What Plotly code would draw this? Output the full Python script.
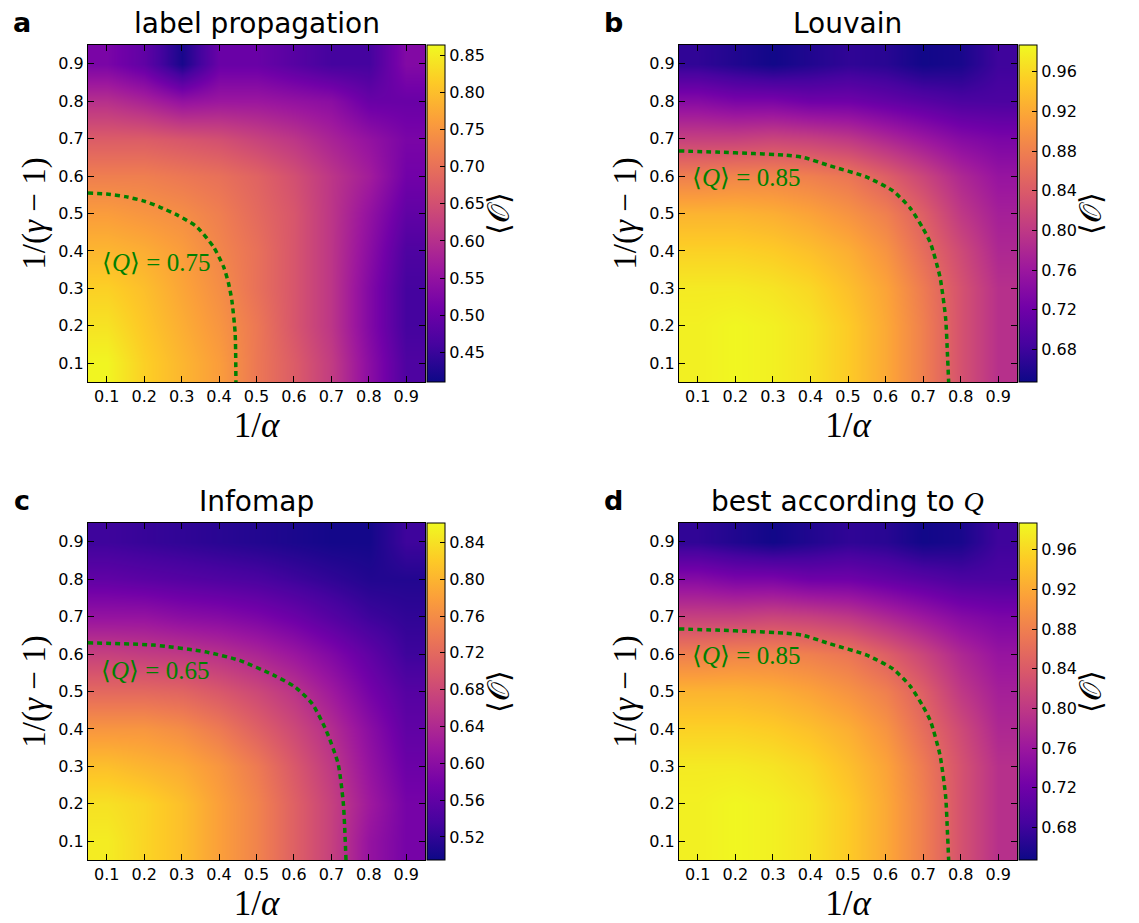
import plotly.graph_objects as go

W, H = 1139, 923

# ---------------- data ----------------
x_vals = [0.1, 0.2, 0.3, 0.4, 0.5, 0.6, 0.7, 0.8, 0.9]   # 1/alpha
y_vals = [0.1, 0.2, 0.3, 0.4, 0.5, 0.6, 0.7, 0.8, 0.9]   # 1/(gamma-1)
tick_vals = [0.1, 0.2, 0.3, 0.4, 0.5, 0.6, 0.7, 0.8, 0.9]
tick_text = ["0.1", "0.2", "0.3", "0.4", "0.5", "0.6", "0.7", "0.8", "0.9"]

# rows: y = 0.1 ... 0.9 ; columns: x = 0.1 ... 0.9
z_label_prop = [
    [0.86, 0.82, 0.79, 0.76, 0.71, 0.67, 0.62, 0.54, 0.47],
    [0.84, 0.81, 0.78, 0.75, 0.71, 0.66, 0.61, 0.53, 0.46],
    [0.82, 0.80, 0.77, 0.74, 0.70, 0.66, 0.61, 0.53, 0.46],
    [0.79, 0.78, 0.76, 0.73, 0.70, 0.66, 0.61, 0.54, 0.47],
    [0.76, 0.75, 0.74, 0.72, 0.69, 0.66, 0.61, 0.55, 0.49],
    [0.72, 0.72, 0.71, 0.70, 0.68, 0.65, 0.61, 0.57, 0.51],
    [0.67, 0.67, 0.66, 0.65, 0.63, 0.61, 0.58, 0.55, 0.52],
    [0.60, 0.58, 0.55, 0.56, 0.56, 0.55, 0.54, 0.50, 0.50],
    [0.52, 0.49, 0.42, 0.50, 0.50, 0.48, 0.46, 0.46, 0.53],
]
z_louvain = [
    [0.980, 0.985, 0.980, 0.970, 0.950, 0.920, 0.880, 0.830, 0.790],
    [0.980, 0.985, 0.980, 0.970, 0.950, 0.920, 0.880, 0.830, 0.790],
    [0.975, 0.975, 0.970, 0.960, 0.940, 0.915, 0.875, 0.830, 0.790],
    [0.955, 0.955, 0.950, 0.940, 0.925, 0.900, 0.860, 0.820, 0.780],
    [0.930, 0.930, 0.925, 0.915, 0.900, 0.880, 0.845, 0.800, 0.770],
    [0.880, 0.885, 0.885, 0.880, 0.870, 0.845, 0.815, 0.780, 0.755],
    [0.810, 0.810, 0.815, 0.810, 0.800, 0.780, 0.760, 0.740, 0.730],
    [0.740, 0.730, 0.730, 0.720, 0.720, 0.710, 0.700, 0.690, 0.690],
    [0.670, 0.660, 0.650, 0.660, 0.670, 0.665, 0.650, 0.655, 0.680],
]
z_infomap = [
    [0.850, 0.830, 0.810, 0.780, 0.750, 0.710, 0.670, 0.610, 0.580],
    [0.840, 0.830, 0.810, 0.780, 0.750, 0.710, 0.670, 0.620, 0.580],
    [0.810, 0.800, 0.790, 0.770, 0.740, 0.700, 0.660, 0.610, 0.570],
    [0.770, 0.770, 0.760, 0.740, 0.710, 0.680, 0.645, 0.600, 0.560],
    [0.720, 0.720, 0.715, 0.700, 0.680, 0.655, 0.620, 0.580, 0.550],
    [0.670, 0.665, 0.660, 0.650, 0.635, 0.615, 0.590, 0.560, 0.530],
    [0.610, 0.610, 0.600, 0.595, 0.585, 0.570, 0.550, 0.530, 0.520],
    [0.560, 0.555, 0.550, 0.545, 0.540, 0.530, 0.520, 0.510, 0.510],
    [0.530, 0.525, 0.520, 0.515, 0.510, 0.505, 0.500, 0.500, 0.530],
]
z_best_q = [row[:] for row in z_louvain]

# contour lines of <Q>
cont_lp_x = [0.05, 0.10, 0.15, 0.20, 0.24, 0.29, 0.34, 0.385, 0.412, 0.425, 0.434, 0.443, 0.445]
cont_lp_y = [0.555, 0.552, 0.545, 0.533, 0.518, 0.495, 0.465, 0.411, 0.358, 0.315, 0.269, 0.18, 0.05]
cont_lv_x = [0.05, 0.15, 0.25, 0.33, 0.38, 0.45, 0.55, 0.62, 0.665, 0.70, 0.72, 0.745, 0.76, 0.765, 0.768]
cont_lv_y = [0.667, 0.664, 0.66, 0.656, 0.65, 0.628, 0.597, 0.56, 0.515, 0.46, 0.42, 0.33, 0.22, 0.12, 0.05]
cont_im_x = [0.05, 0.225, 0.363, 0.455, 0.547, 0.603, 0.649, 0.686, 0.718, 0.732, 0.739]
cont_im_y = [0.63, 0.624, 0.606, 0.583, 0.543, 0.512, 0.467, 0.396, 0.307, 0.20, 0.05]

# colorbar ranges / ticks
cb_lp = dict(zmin=0.41, zmax=0.864, ticks=[0.45, 0.50, 0.55, 0.60, 0.65, 0.70, 0.75, 0.80, 0.85])
cb_lv = dict(zmin=0.647, zmax=0.987, ticks=[0.68, 0.72, 0.76, 0.80, 0.84, 0.88, 0.92, 0.96])
cb_im = dict(zmin=0.495, zmax=0.861, ticks=[0.52, 0.56, 0.60, 0.64, 0.68, 0.72, 0.76, 0.80, 0.84])

titles = ["label propagation", "Louvain", "Infomap",
          "best according to <span style='font-family:Liberation Serif'><i>Q</i></span>"]
letters = ["a", "b", "c", "d"]
q_labels = ["0.75", "0.85", "0.65", "0.85"]
q_label_pos = [(0.082, 0.37), (0.08, 0.597), (0.08, 0.557), (0.08, 0.597)]

# ---------------- layout geometry (pixels) ----------------
panels = [  # left, right, top, bottom
    (88, 425, 45, 382),
    (679, 1017, 45, 382),
    (88, 425, 523, 860),
    (679, 1017, 523, 860),
]

zs = [z_label_prop, z_louvain, z_infomap, z_best_q]
cbs = [cb_lp, cb_lv, cb_im, cb_lv]
conts = [(cont_lp_x, cont_lp_y), (cont_lv_x, cont_lv_y), (cont_im_x, cont_im_y), (cont_lv_x, cont_lv_y)]

SERIF = "Liberation Serif"
SANS = "DejaVu Sans"
GREEN = "#008000"

fig = go.Figure()
layout = dict(
    width=W, height=H, margin=dict(l=0, r=0, t=0, b=0),
    paper_bgcolor="white", plot_bgcolor="white", showlegend=False,
)
annotations = []

for i, (L, R, T, B) in enumerate(panels):
    n = "" if i == 0 else str(i + 1)
    xa, ya = "x" + n, "y" + n
    cb = cbs[i]
    fig.add_trace(go.Heatmap(
        x=x_vals, y=y_vals, z=zs[i], xaxis=xa, yaxis=ya,
        colorscale="Plasma", zmin=cb["zmin"], zmax=cb["zmax"], zsmooth="best",
        colorbar=dict(
            x=(R + 2) / W, xanchor="left", xpad=0, ypad=0,
            y=1 - (T + B) / 2 / H, yanchor="middle",
            len=(B - T) / H, lenmode="fraction",
            thickness=18, thicknessmode="pixels",
            outlinewidth=1, outlinecolor="black",
            ticks="inside", ticklen=5, tickcolor="black", tickwidth=1,
            tickvals=cb["ticks"], ticktext=["%.2f" % v for v in cb["ticks"]],
            tickfont=dict(family=SANS, size=16, color="black"),
        ),
        showscale=True, hoverinfo="skip",
    ))
    cx, cy = conts[i]
    fig.add_trace(go.Scatter(
        x=cx, y=cy, xaxis=xa, yaxis=ya, mode="lines",
        line=dict(color=GREEN, width=3.5, dash="5px,4px", shape="spline", smoothing=0.6),
        hoverinfo="skip",
    ))
    axis_common = dict(
        range=[0.05, 0.95], tickvals=tick_vals, ticktext=tick_text,
        ticks="inside", ticklen=6, tickwidth=1, tickcolor="black",
        showline=True, linecolor="black", linewidth=1, mirror="ticks",
        showgrid=False, zeroline=False,
        tickfont=dict(family=SANS, size=16, color="black"),
    )
    layout["xaxis" + n] = dict(
        axis_common, domain=[L / W, R / W], anchor=ya,
        title=dict(text="1/<i>α</i>", font=dict(family=SERIF, size=35, color="black"), standoff=3),
    )
    layout["yaxis" + n] = dict(
        axis_common, domain=[1 - B / H, 1 - T / H], anchor=xa,
        title=dict(text="1/(<i>γ</i> − 1)", font=dict(family=SERIF, size=33, color="black"), standoff=2),
    )
    # panel title
    annotations.append(dict(
        text=titles[i], x=(L + R) / 2 / W, y=1 - (T - 22) / H, xref="paper", yref="paper",
        xanchor="center", yanchor="middle", showarrow=False,
        font=dict(family=SANS, size=28, color="black"),
    ))
    # panel letter
    annotations.append(dict(
        text="<b>" + letters[i] + "</b>", x=(L - 66) / W, y=1 - (T - 23) / H,
        xref="paper", yref="paper", xanchor="center", yanchor="middle", showarrow=False,
        font=dict(family=SANS, size=27, color="black"),
    ))
    # colorbar label
    annotations.append(dict(
        text="⟨𝒪⟩", x=(R + 73) / W, y=1 - (T + B) / 2 / H, xref="paper", yref="paper",
        xanchor="center", yanchor="middle", showarrow=False, textangle=-90,
        font=dict(family=SERIF, size=30, color="black"),
    ))
    # <Q> label
    qx, qy = q_label_pos[i]
    annotations.append(dict(
        text="⟨<i>Q</i>⟩ = " + q_labels[i], x=qx, y=qy, xref=xa, yref=ya,
        xanchor="left", yanchor="middle", showarrow=False,
        font=dict(family=SERIF, size=25, color=GREEN),
    ))

layout["annotations"] = annotations
fig.update_layout(**layout)
fig.write_html("out.html")
